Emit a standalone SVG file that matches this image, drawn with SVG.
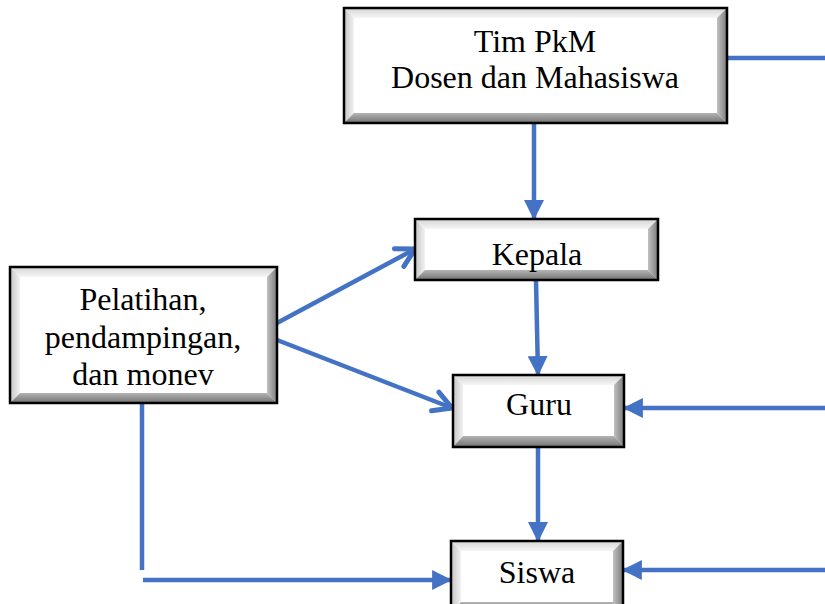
<svg xmlns="http://www.w3.org/2000/svg" width="825" height="604" viewBox="0 0 825 604">
<defs>
<linearGradient id="gTop" x1="0" y1="0" x2="0" y2="1"><stop offset="0" stop-color="#d4d4d4"/><stop offset="1" stop-color="#f6f6f6"/></linearGradient>
<linearGradient id="gLeft" x1="0" y1="0" x2="1" y2="0"><stop offset="0" stop-color="#c4c4c4"/><stop offset="1" stop-color="#f2f2f2"/></linearGradient>
<linearGradient id="gRight" x1="0" y1="0" x2="1" y2="0"><stop offset="0" stop-color="#c0c0c0"/><stop offset="1" stop-color="#7c7c7c"/></linearGradient>
<linearGradient id="gBottom" x1="0" y1="0" x2="0" y2="1"><stop offset="0" stop-color="#b4b4b4"/><stop offset="1" stop-color="#727272"/></linearGradient>
<marker id="tri" markerUnits="userSpaceOnUse" markerWidth="20" markerHeight="20" viewBox="0 0 18 18" refX="17" refY="9" orient="auto">
<path d="M0,0 L18,9 L0,18 Z" fill="#4472C4"/>
</marker>
<marker id="vee" markerUnits="userSpaceOnUse" markerWidth="30" markerHeight="30" viewBox="0 0 30 30" refX="26" refY="15" orient="auto">
<polyline points="8,5 26,15 8,25" fill="none" stroke="#4472C4" stroke-width="5" stroke-linecap="round" stroke-linejoin="round"/>
</marker>
</defs>
<style>
.face{fill:#ffffff}
.bt{fill:url(#gTop)}
.bl{fill:url(#gLeft)}
.br{fill:url(#gRight)}
.bb{fill:url(#gBottom)}
.frame{fill:none;stroke:#000000;stroke-width:2.5}
.lbl{font-family:"Liberation Serif","Times New Roman",serif;font-size:32px;fill:#000000;text-anchor:middle}
.c{fill:none;stroke:#4472C4;stroke-width:4.5}
</style>

<g id="connectors">
<line class="c" x1="727" y1="58" x2="825" y2="58"/>
<line class="c" x1="534" y1="123" x2="534" y2="219" marker-end="url(#tri)"/>
<line class="c" x1="536" y1="280" x2="538" y2="375" marker-end="url(#tri)"/>
<line class="c" x1="538" y1="447" x2="538" y2="541" marker-end="url(#tri)"/>
<line class="c" x1="825" y1="408" x2="624" y2="408" marker-end="url(#tri)"/>
<line class="c" x1="825" y1="570" x2="623" y2="570" marker-end="url(#tri)"/>
<line class="c" x1="277" y1="323" x2="415" y2="249" marker-end="url(#vee)"/>
<line class="c" x1="277" y1="340" x2="452" y2="408" marker-end="url(#vee)"/>
<line class="c" x1="142" y1="404" x2="142" y2="570"/>
<line class="c" x1="143" y1="580" x2="451" y2="580" marker-end="url(#tri)"/>
</g>

<g id="tim">
<rect class="face" x="344" y="8" width="383" height="115"/>
<polygon class="bt" points="344,8 727,8 717,18 354,18"/>
<polygon class="bl" points="344,8 354,18 354,113 344,123"/>
<polygon class="br" points="727,8 727,123 717,113 717,18"/>
<polygon class="bb" points="344,123 354,113 717,113 727,123"/>
<rect class="frame" x="344" y="8" width="383" height="115"/>
<text class="lbl" x="535" y="52">Tim PkM</text>
<text class="lbl" x="535" y="88">Dosen dan Mahasiswa</text>
</g>

<g id="kepala">
<rect class="face" x="415" y="219" width="243" height="61"/>
<polygon class="bt" points="415,219 658,219 648,229 425,229"/>
<polygon class="bl" points="415,219 425,229 425,270 415,280"/>
<polygon class="br" points="658,219 658,280 648,270 648,229"/>
<polygon class="bb" points="415,280 425,270 648,270 658,280"/>
<rect class="frame" x="415" y="219" width="243" height="61"/>
<text class="lbl" x="537" y="265">Kepala</text>
</g>

<g id="pelatihan">
<rect class="face" x="10" y="267" width="267" height="136"/>
<polygon class="bt" points="10,267 277,267 267,277 20,277"/>
<polygon class="bl" points="10,267 20,277 20,393 10,403"/>
<polygon class="br" points="277,267 277,403 267,393 267,277"/>
<polygon class="bb" points="10,403 20,393 267,393 277,403"/>
<rect class="frame" x="10" y="267" width="267" height="136"/>
<text class="lbl" x="143" y="310">Pelatihan,</text>
<text class="lbl" x="143" y="348">pendampingan,</text>
<text class="lbl" x="143" y="385">dan monev</text>
</g>

<g id="guru">
<rect class="face" x="453" y="375" width="171" height="72"/>
<polygon class="bt" points="453,375 624,375 614,385 463,385"/>
<polygon class="bl" points="453,375 463,385 463,436 453,447"/>
<polygon class="br" points="624,375 624,447 614,436 614,385"/>
<polygon class="bb" points="453,447 463,436 614,436 624,447"/>
<rect class="frame" x="453" y="375" width="171" height="72"/>
<text class="lbl" x="539" y="415">Guru</text>
</g>

<g id="siswa">
<rect class="face" x="451" y="541" width="172" height="72"/>
<polygon class="bt" points="451,541 623,541 613,551 461,551"/>
<polygon class="bl" points="451,541 461,551 461,602 451,613"/>
<polygon class="br" points="623,541 623,613 613,602 613,551"/>
<polygon class="bb" points="451,613 461,602 613,602 623,613"/>
<rect class="frame" x="451" y="541" width="172" height="72"/>
<text class="lbl" x="537" y="583">Siswa</text>
</g>
</svg>
